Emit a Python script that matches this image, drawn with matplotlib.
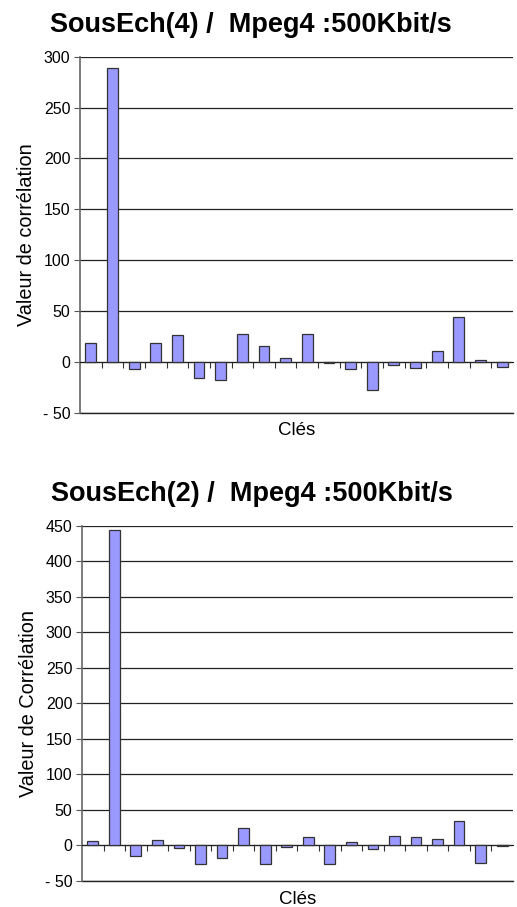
import numpy as np
import matplotlib.pyplot as plt

plt.rcParams['font.family'] = ['Liberation Sans', 'DejaVu Sans']

cles = np.arange(20)
corr_sous4 = [19, 289, -7, 19, 26, -16, -18, 27.5, 16, 4,
              27, -1.5, -7, -27.5, -3, -6, 11, 44, 1.5, -5.5]
corr_sous2 = [6, 444, -15, 7, -4, -26, -17, 25, -26, -2.5,
              12, -26, 5, -4.5, 13.5, 11.5, 9, 34, -25, -1]

titre_sous4 = 'SousEch(4) /  Mpeg4 :500Kbit/s'
titre_sous2 = 'SousEch(2) /  Mpeg4 :500Kbit/s'
ylabel_sous4 = 'Valeur de corrélation'
ylabel_sous2 = 'Valeur de Corrélation'
yticks_sous4 = [-50, 0, 50, 100, 150, 200, 250, 300]
yticks_sous2 = [-50, 0, 50, 100, 150, 200, 250, 300, 350, 400, 450]


def draw(ax, values, yticks, ylabel, title):
    ax.bar(cles, values, width=0.5, color='#9999ff',
           edgecolor='#333333', linewidth=0.9, zorder=3)
    ax.set_xlim(-0.5, 19.5)
    ax.set_ylim(yticks[0], yticks[-1])
    ax.set_yticks(yticks)
    ax.set_yticklabels([('- %d' % -v) if v < 0 else str(v) for v in yticks],
                       fontsize=11.5)
    ax.yaxis.grid(True, color='#222222', linewidth=0.9, zorder=0)
    ax.axhline(yticks[0], color='#222222', linewidth=1.0, clip_on=False)
    ax.set_xticks(cles[:-1] + 0.5)
    ax.set_xticklabels([])
    ax.tick_params(axis='x', length=4, width=0.8, color='#333333')
    ax.tick_params(axis='y', length=4, width=0.8, color='#555555', pad=3)
    for s in ('top', 'right'):
        ax.spines[s].set_visible(False)
    ax.spines['bottom'].set_position(('data', 0))
    ax.spines['bottom'].set_color('#222222')
    ax.spines['left'].set_color('#666666')
    ax.spines['left'].set_linewidth(1.2)
    ax.set_ylabel(ylabel, fontsize=14.3, labelpad=5)
    ax.text(0.5, -0.027, 'Clés', transform=ax.transAxes, ha='center',
            va='top', fontsize=13.5)
    ax.set_title(title, fontsize=19.5, fontweight='bold', pad=18,
                 x=0.395)


fig = plt.figure(figsize=(5.17, 9.07), dpi=100)
ax1 = fig.add_axes([0.1547, 0.545, 0.8375, 0.3925])
ax2 = fig.add_axes([0.1586, 0.0287, 0.8336, 0.3914])

draw(ax1, corr_sous4, yticks_sous4, ylabel_sous4, titre_sous4)
draw(ax2, corr_sous2, yticks_sous2, ylabel_sous2, titre_sous2)

fig.savefig('out.png', dpi=100)
